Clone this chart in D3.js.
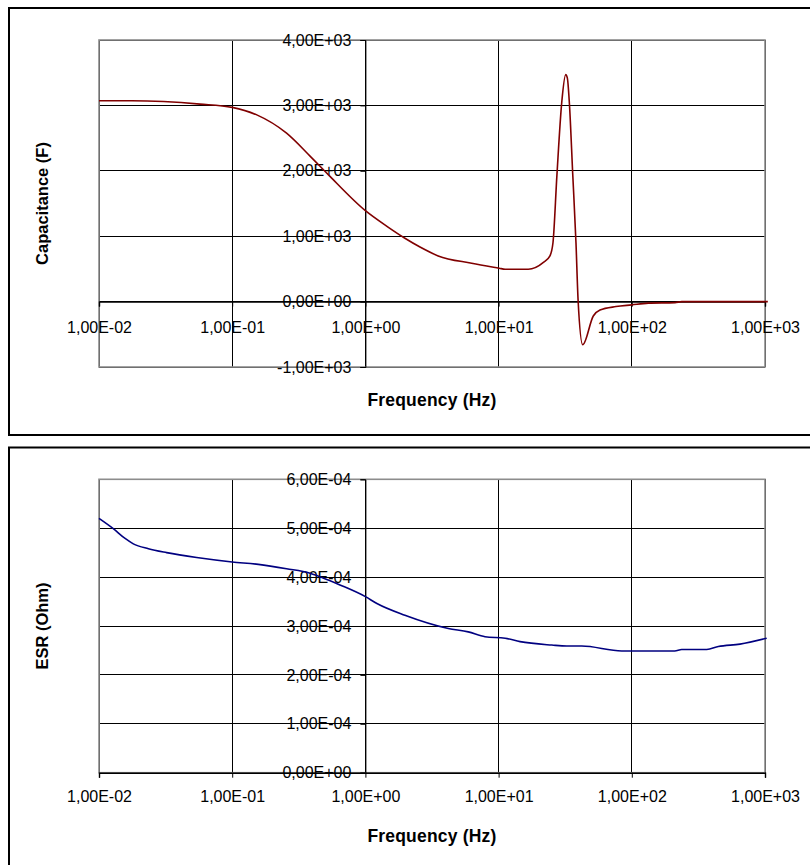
<!DOCTYPE html>
<html>
<head>
<meta charset="utf-8">
<script src="https://cdn.jsdelivr.net/npm/d3@7"></script>
<style>
  html, body { margin: 0; padding: 0; background: #fff; }
  svg { display: block; }
  text { font-family: "Liberation Sans", Arial, sans-serif; }
</style>
</head>
<body>
<svg id="chart" width="810" height="865"></svg>
<script>
// ---------- DATA ----------
const freqTicks = [0.01, 0.1, 1, 10, 100, 1000];
const freqTickLabels = ["1,00E-02", "1,00E-01", "1,00E+00", "1,00E+01", "1,00E+02", "1,00E+03"];

const capTicks = [-1000, 0, 1000, 2000, 3000, 4000];
const capTickLabels = ["-1,00E+03", "0,00E+00", "1,00E+03", "2,00E+03", "3,00E+03", "4,00E+03"];

const esrTicks = [0, 1e-4, 2e-4, 3e-4, 4e-4, 5e-4, 6e-4];
const esrTickLabels = ["0,00E+00", "1,00E-04", "2,00E-04", "3,00E-04", "4,00E-04", "5,00E-04", "6,00E-04"];

// Capacitance (F) vs frequency (Hz)
const capFreq = [0.01, 0.0176, 0.0573, 0.1, 0.153, 0.256, 0.384, 0.524, 1.0, 1.46, 1.98, 2.57, 3.52, 6.28, 10.1, 11.2, 16.7, 21.7, 24.3, 25.6, 27.4, 29.8, 31.9, 32.8, 34.0, 36.0, 38.1, 39.5, 42.8, 51.4, 57.7, 76.0, 99.8, 133, 211, 237, 1050];
const capValue = [3070, 3070, 3020, 2970, 2855, 2575, 2225, 1945, 1390, 1147, 969, 835, 699, 587, 511, 495, 495, 600, 700, 900, 1930, 3050, 3470, 3420, 3030, 1960, 900, 30, -660, -220, -130, -76, -50, -24, -15, 0, 0];

// ESR (Ohm) vs frequency (Hz)
const esrFreq = [0.01, 0.0128, 0.0157, 0.0181, 0.0235, 0.0322, 0.0541, 0.1, 0.157, 0.256, 0.384, 0.526, 0.644, 1.0, 1.22, 1.98, 4.19, 5.92, 7.91, 11.2, 14.5, 25.1, 32.5, 42.1, 84, 210, 237, 365, 446, 649, 1030];
const esrValue = [5.20e-4, 4.99e-4, 4.79e-4, 4.68e-4, 4.58e-4, 4.50e-4, 4.40e-4, 4.31e-4, 4.26e-4, 4.17e-4, 4.08e-4, 3.94e-4, 3.84e-4, 3.60e-4, 3.46e-4, 3.22e-4, 2.95e-4, 2.88e-4, 2.78e-4, 2.75e-4, 2.68e-4, 2.61e-4, 2.59e-4, 2.59e-4, 2.49e-4, 2.49e-4, 2.52e-4, 2.52e-4, 2.58e-4, 2.63e-4, 2.75e-4];

// ---------- DRAW ----------
const svg = d3.select("#chart");
const FONT = '"Liberation Sans", Arial, sans-serif';

function drawPanel(cfg) {
  const g = svg.append("g");
  // outer frame
  g.append("rect")
    .attr("x", cfg.frame[0]).attr("y", cfg.frame[1])
    .attr("width", cfg.frame[2]).attr("height", cfg.frame[3])
    .attr("fill", "#fff").attr("stroke", "#000").attr("stroke-width", 2);

  const x = d3.scaleLog().domain([0.01, 1000]).range([99, 765]);
  const y = d3.scaleLinear().domain(cfg.yDomain).range([cfg.plotBottom, cfg.plotTop]);

  // gridlines
  g.append("g").selectAll("line.h").data(cfg.yTicks).join("line")
    .attr("x1", 99).attr("x2", 765)
    .attr("y1", d => y(d)).attr("y2", d => y(d))
    .attr("stroke", "#000").attr("stroke-width", 1).attr("shape-rendering", "crispEdges");
  g.append("g").selectAll("line.v").data(freqTicks).join("line")
    .attr("x1", d => x(d)).attr("x2", d => x(d))
    .attr("y1", cfg.plotTop).attr("y2", cfg.plotBottom)
    .attr("stroke", "#000").attr("stroke-width", 1).attr("shape-rendering", "crispEdges");

  // plot border
  g.append("rect")
    .attr("x", 99).attr("y", cfg.plotTop)
    .attr("width", 765 - 99).attr("height", cfg.plotBottom - cfg.plotTop)
    .attr("fill", "none").attr("stroke", "#8c8c8c").attr("stroke-width", 1.6);

  // x axis (at y = xAxisAt)
  const xAxis = d3.axisBottom(x).tickValues(freqTicks)
    .tickFormat((d, i) => freqTickLabels[i]).tickSize(5).tickPadding(cfg.xPad);
  const xa = g.append("g").attr("transform", `translate(0,${y(cfg.xAxisAt)})`).call(xAxis);
  xa.select(".domain").attr("stroke", "#000").attr("stroke-width", 1.4);
  xa.selectAll(".tick line").attr("stroke", "#000");
  xa.selectAll("text").attr("font-family", FONT).attr("font-size", 16).attr("fill", "#000");

  // y axis at f = 1 Hz
  const yAxis = d3.axisLeft(y).tickValues(cfg.yTicks)
    .tickFormat((d, i) => cfg.yLabels[i]).tickSize(5).tickPadding(9);
  const ya = g.append("g").attr("transform", `translate(${x(1)},0)`).call(yAxis);
  ya.select(".domain").attr("stroke", "#000").attr("stroke-width", 1);
  ya.selectAll(".tick line").attr("stroke", "#000");
  ya.selectAll("text").attr("font-family", FONT).attr("font-size", 16).attr("fill", "#000");

  // axis titles
  g.append("text")
    .attr("x", 432).attr("y", cfg.xTitleY)
    .attr("text-anchor", "middle")
    .attr("font-family", FONT).attr("font-weight", "bold").attr("font-size", 17.5)
    .attr("letter-spacing", 0.2)
    .text("Frequency (Hz)");
  g.append("text")
    .attr("transform", `translate(48,${(cfg.plotTop + cfg.plotBottom) / 2}) rotate(-90)`)
    .attr("text-anchor", "middle")
    .attr("font-family", FONT).attr("font-weight", "bold").attr("font-size", 16.5)
    .text(cfg.yTitle);

  // data line
  const pts = cfg.xs.map((f, i) => [f, cfg.ys[i]]);
  g.append("path")
    .datum(pts)
    .attr("d", d3.line().x(d => x(d[0])).y(d => y(d[1])).curve(d3.curveMonotoneX))
    .attr("fill", "none").attr("stroke", cfg.color).attr("stroke-width", 1.6)
    .attr("stroke-linejoin", "round");
}

drawPanel({
  frame: [9, 8, 820, 427],
  plotTop: 40, plotBottom: 367,
  yDomain: [-1000, 4000], yTicks: capTicks, yLabels: capTickLabels,
  xAxisAt: 0, xPad: 15, xTitleY: 406,
  yTitle: "Capacitance (F)",
  xs: capFreq, ys: capValue, color: "#800000"
});

drawPanel({
  frame: [9, 447.5, 820, 440],
  plotTop: 479.3, plotBottom: 772.7,
  yDomain: [0, 6e-4], yTicks: esrTicks, yLabels: esrTickLabels,
  xAxisAt: 0, xPad: 13, xTitleY: 842,
  yTitle: "ESR (Ohm)",
  xs: esrFreq, ys: esrValue, color: "#000080"
});
</script>
</body>
</html>
